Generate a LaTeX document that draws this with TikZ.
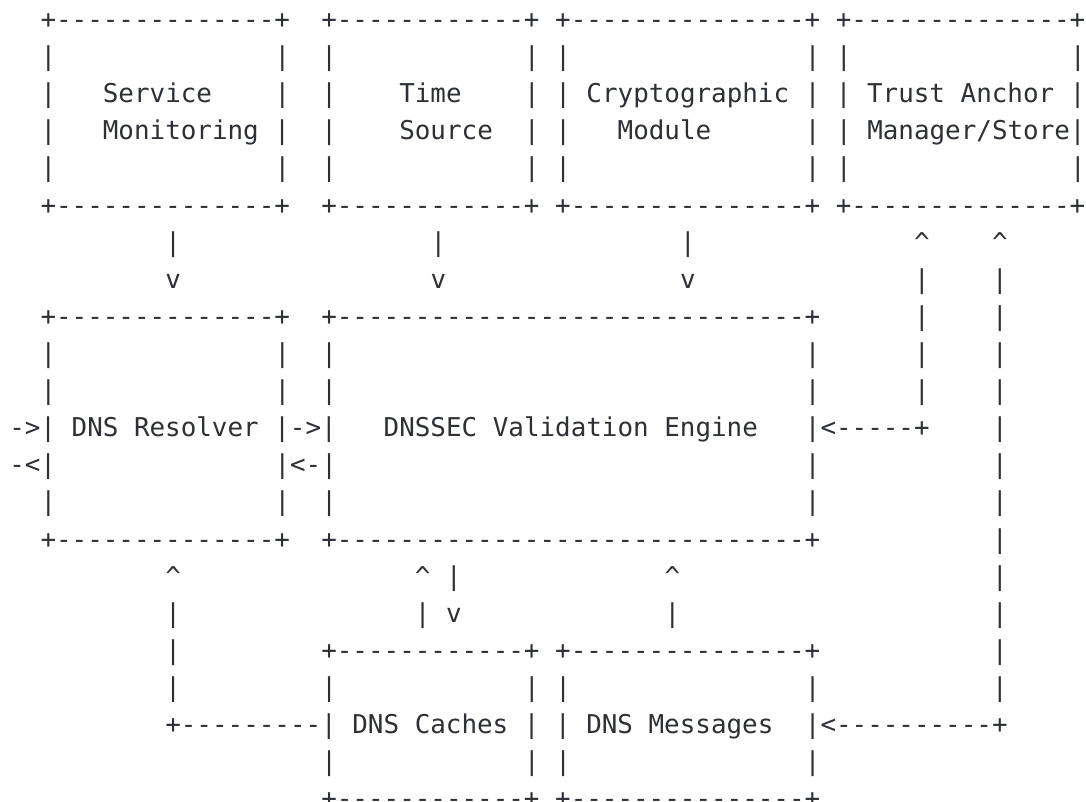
\documentclass[tikz,border=0pt]{standalone}
\usepackage{fontspec}
\setmonofont{DejaVu Sans Mono}
\usepackage{tikz}

\definecolor{ink}{HTML}{2D3035}
\tikzset{ascii/.style={inner sep=0pt, outer sep=0pt, anchor=base west, text=ink,
    font=\ttfamily\fontsize{12.95pt}{15pt}\selectfont}}
\newcommand{\up}{\textasciicircum}

\begin{document}
\begin{tikzpicture}[x=7.8pt, y=-18.55pt]
	\useasboundingbox (-4.65pt, 14.3pt) rectangle (538.35pt, -386.7pt);
	
	% top row of boxes
	\node[ascii] (r0c2)  at (2, 0)  {+--------------+};
	\node[ascii] (r0c20) at (20, 0) {+------------+ +---------------+ +--------------+};
	\node[ascii] (r1c2)  at (2, 1)  {|};
	\node[ascii] (r1c17) at (17, 1) {|};
	\node[ascii] (r1c20) at (20, 1) {|};
	\node[ascii] (r1c33) at (33, 1) {| |};
	\node[ascii] (r1c51) at (51, 1) {| |};
	\node[ascii] (r1c68) at (68, 1) {|};
	\node[ascii] (r2c2)  at (2, 2)  {|};
	\node[ascii] (r2c6)  at (6, 2)  {Service};
	\node[ascii] (r2c17) at (17, 2) {|};
	\node[ascii] (r2c20) at (20, 2) {|};
	\node[ascii] (r2c25) at (25, 2) {Time};
	\node[ascii] (r2c33) at (33, 2) {| | Cryptographic | | Trust Anchor |};
	\node[ascii] (r3c2)  at (2, 3)  {|};
	\node[ascii] (r3c6)  at (6, 3)  {Monitoring |};
	\node[ascii] (r3c20) at (20, 3) {|};
	\node[ascii] (r3c25) at (25, 3) {Source};
	\node[ascii] (r3c33) at (33, 3) {| |};
	\node[ascii] (r3c39) at (39, 3) {Module};
	\node[ascii] (r3c51) at (51, 3) {| | Manager/Store|};
	\node[ascii] (r4c2)  at (2, 4)  {|};
	\node[ascii] (r4c17) at (17, 4) {|};
	\node[ascii] (r4c20) at (20, 4) {|};
	\node[ascii] (r4c33) at (33, 4) {| |};
	\node[ascii] (r4c51) at (51, 4) {| |};
	\node[ascii] (r4c68) at (68, 4) {|};
	\node[ascii] (r5c2)  at (2, 5)  {+--------------+};
	\node[ascii] (r5c20) at (20, 5) {+------------+ +---------------+ +--------------+};
	
	% arrows down to resolver and engine
	\node[ascii] (r6c10) at (10, 6) {|};
	\node[ascii] (r6c27) at (27, 6) {|};
	\node[ascii] (r6c43) at (43, 6) {|};
	\node[ascii] (r6c58) at (58, 6) {\up};
	\node[ascii] (r6c63) at (63, 6) {\up};
	\node[ascii] (r7c10) at (10, 7) {v};
	\node[ascii] (r7c27) at (27, 7) {v};
	\node[ascii] (r7c43) at (43, 7) {v};
	\node[ascii] (r7c58) at (58, 7) {|};
	\node[ascii] (r7c63) at (63, 7) {|};
	
	% resolver and validation engine
	\node[ascii] (r8c2)  at (2, 8)  {+--------------+};
	\node[ascii] (r8c20) at (20, 8) {+------------------------------+};
	\node[ascii] (r8c58) at (58, 8) {|};
	\node[ascii] (r8c63) at (63, 8) {|};
	\node[ascii] (r9c2)  at (2, 9)  {|};
	\node[ascii] (r9c17) at (17, 9) {|};
	\node[ascii] (r9c20) at (20, 9) {|};
	\node[ascii] (r9c51) at (51, 9) {|};
	\node[ascii] (r9c58) at (58, 9) {|};
	\node[ascii] (r9c63) at (63, 9) {|};
	\node[ascii] (r10c2)  at (2, 10)  {|};
	\node[ascii] (r10c17) at (17, 10) {|};
	\node[ascii] (r10c20) at (20, 10) {|};
	\node[ascii] (r10c51) at (51, 10) {|};
	\node[ascii] (r10c58) at (58, 10) {|};
	\node[ascii] (r10c63) at (63, 10) {|};
	\node[ascii] (r11c0)  at (0, 11)  {->| DNS Resolver |->|};
	\node[ascii] (r11c24) at (24, 11) {DNSSEC Validation Engine};
	\node[ascii] (r11c51) at (51, 11) {|<-----+};
	\node[ascii] (r11c63) at (63, 11) {|};
	\node[ascii] (r12c0)  at (0, 12)  {-<|};
	\node[ascii] (r12c17) at (17, 12) {|<-|};
	\node[ascii] (r12c51) at (51, 12) {|};
	\node[ascii] (r12c63) at (63, 12) {|};
	\node[ascii] (r13c2)  at (2, 13)  {|};
	\node[ascii] (r13c17) at (17, 13) {|};
	\node[ascii] (r13c20) at (20, 13) {|};
	\node[ascii] (r13c51) at (51, 13) {|};
	\node[ascii] (r13c63) at (63, 13) {|};
	\node[ascii] (r14c2)  at (2, 14)  {+--------------+};
	\node[ascii] (r14c20) at (20, 14) {+------------------------------+};
	\node[ascii] (r14c63) at (63, 14) {|};
	
	% arrows up from caches and messages
	\node[ascii] (r15c10) at (10, 15) {\up};
	\node[ascii] (r15c26) at (26, 15) {\up{} |};
	\node[ascii] (r15c42) at (42, 15) {\up};
	\node[ascii] (r15c63) at (63, 15) {|};
	\node[ascii] (r16c10) at (10, 16) {|};
	\node[ascii] (r16c26) at (26, 16) {| v};
	\node[ascii] (r16c42) at (42, 16) {|};
	\node[ascii] (r16c63) at (63, 16) {|};
	
	% caches and messages
	\node[ascii] (r17c10) at (10, 17) {|};
	\node[ascii] (r17c20) at (20, 17) {+------------+ +---------------+};
	\node[ascii] (r17c63) at (63, 17) {|};
	\node[ascii] (r18c10) at (10, 18) {|};
	\node[ascii] (r18c20) at (20, 18) {|};
	\node[ascii] (r18c33) at (33, 18) {| |};
	\node[ascii] (r18c51) at (51, 18) {|};
	\node[ascii] (r18c63) at (63, 18) {|};
	\node[ascii] (r19c10) at (10, 19) {+---------| DNS Caches | | DNS Messages};
	\node[ascii] (r19c51) at (51, 19) {|<----------+};
	\node[ascii] (r20c20) at (20, 20) {|};
	\node[ascii] (r20c33) at (33, 20) {| |};
	\node[ascii] (r20c51) at (51, 20) {|};
	\node[ascii] (r21c20) at (20, 21) {+------------+ +---------------+};
\end{tikzpicture}
\end{document}
